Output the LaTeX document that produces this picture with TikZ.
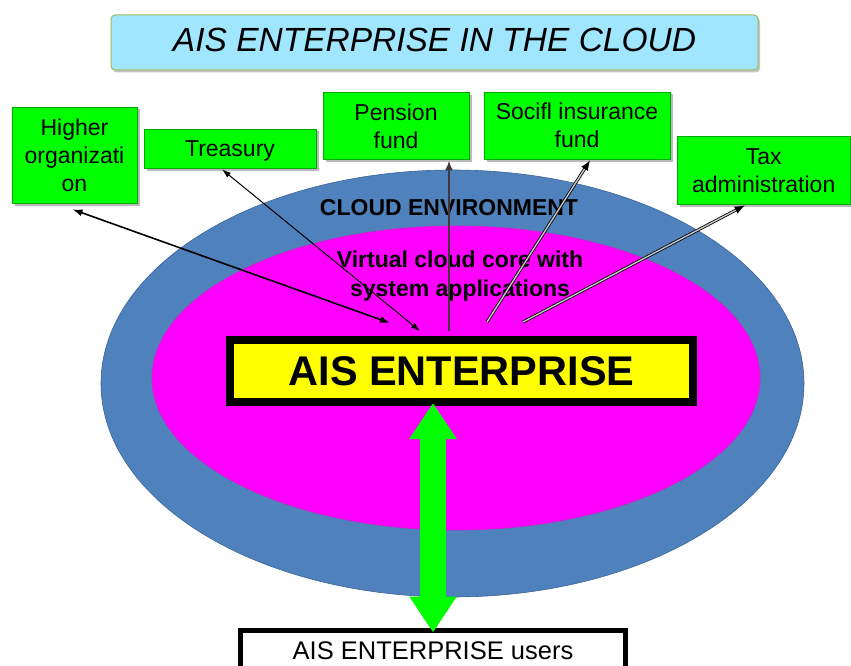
\documentclass[tikz,border=0pt]{standalone}
\usepackage{fontspec}
\setmainfont{Liberation Sans}
\usetikzlibrary{arrows.meta,shadows,calc}
\definecolor{cloudblue}{HTML}{4F81BD}
\definecolor{cloudedge}{HTML}{3C6597}
\definecolor{coremag}{HTML}{FF00FF}
\definecolor{coreedge}{HTML}{D020D0}
\definecolor{boxgreen}{HTML}{00FF00}
\definecolor{boxedge}{HTML}{00A800}
\definecolor{titlefill}{HTML}{A0E6FF}
\definecolor{titleedge}{HTML}{9BBB59}
\definecolor{aisyellow}{HTML}{FFFF00}
\newcommand\gstrut{\rule[-5.3pt]{0pt}{27.3pt}}
\begin{document}
\begin{tikzpicture}[x=1pt,y=-1pt,
  orgbox/.style={rectangle, draw=boxedge, line width=0.8pt, fill=boxgreen,
    inner sep=0pt, align=center, font=\fontsize{23}{28}\selectfont,
    drop shadow={shadow xshift=2.5pt,shadow yshift=-2.5pt,fill=black!45,opacity=0.6}},
  titlebox/.style={rectangle, rounded corners=4pt, draw=titleedge, line width=1pt,
    fill=titlefill, inner sep=0pt, text depth=6pt,
    font=\fontsize{33.5}{38}\selectfont\itshape,
    drop shadow={shadow xshift=2pt,shadow yshift=-2.5pt,fill=black!45,opacity=0.5}},
  aisbox/.style={rectangle, draw=black, line width=8pt, fill=aisyellow, inner sep=0pt,
    font=\fontsize{41.5}{46}\selectfont\bfseries},
  userbox/.style={rectangle, draw=black, line width=5pt, fill=white, inner sep=0pt,
    text depth=8pt, font=\fontsize{25.5}{30}\selectfont},
  cloudtext/.style={align=center, inner sep=0pt, font=\fontsize{23}{27}\selectfont\bfseries},
  thinlink/.style={draw=black, line width=1pt, {Latex[length=9pt,width=6pt]}-{Latex[length=9pt,width=6pt]}},
  thicklink/.style={draw=black, line width=1.6pt, {Latex[length=10pt,width=7pt]}-{Latex[length=10pt,width=7pt]}},
  uplink/.style={draw=black!85!magenta, line width=2.2pt, -{Latex[length=10pt,width=8pt]}},
  dbllink/.style={draw=black, line width=0.8pt, double=gray!45, double distance=1.4pt, -{Latex[length=10pt,width=8pt]}},
  bigarrow/.style={draw=boxgreen, line width=26pt,
    {Triangle[width=45pt,length=36pt]}-{Triangle[width=45pt,length=36pt]}}
]
\useasboundingbox (0,0) rectangle (851,666);

% cloud ellipses
\path[fill=cloudblue, draw=cloudedge, line width=0.6pt] (452.5,383.5) ellipse [x radius=351.5, y radius=213.5];
\path[fill=coremag, draw=coreedge, line width=0.8pt] (456,378) ellipse [x radius=304, y radius=152];

% texts
\node[cloudtext] (env) at (449,208) {CLOUD ENVIRONMENT};
\node[cloudtext] (core) at (460,273.5) {\gstrut Virtual cloud core with\\\gstrut system applications};

% title
\node[titlebox, minimum width=647pt, minimum height=55pt] (title) at (434.5,42.5) {AIS ENTERPRISE IN THE CLOUD};

% organisation boxes
\node[orgbox, minimum width=125pt, minimum height=96pt] (hi) at (74.5,155) {\gstrut Higher\\\gstrut organizati\\\gstrut on};
\node[orgbox, minimum width=172pt, minimum height=39pt] (tr) at (230,148.5) {\gstrut Treasury};
\node[orgbox, minimum width=146pt, minimum height=67pt] (pe) at (396,126) {\gstrut Pension\\\gstrut fund};
\node[orgbox, minimum width=186pt, minimum height=67pt] (so) at (577,125.5) {\gstrut Socifl insurance\\\gstrut fund};
\node[orgbox, minimum width=173.5pt, minimum height=68pt] (tx) at (763.75,170) {\gstrut Tax\\\gstrut administration};

% main box
\node[aisbox, minimum width=463pt, minimum height=62pt] (ais) at (461.5,371) {AIS ENTERPRISE};

% users box
\node[userbox, minimum width=385pt, minimum height=50pt, anchor=north] (users) at (433,627.5) {AIS ENTERPRISE users};

% link end points inside the core
\coordinate (hiE) at (390,323);
\coordinate (trE) at (420,331);
\coordinate (peE) at (449,331);
\coordinate (soE) at (487,322);
\coordinate (txE) at (523,322);

% links
\draw[thicklink] ($(hi.south)+(-2,6)$) -- (hiE);
\draw[thinlink] ($(tr.south)+(-8,1)$) -- (trE);
\draw[uplink] (peE) -- ($(pe.south)+(53,0.5)$);
\draw[dbllink] (soE) -- ($(so.south)+(13,1)$);
\draw[dbllink] (txE) -- ($(tx.south)+(-19,1)$);

% big double arrow
\draw[bigarrow, shorten <=-3pt, shorten >=-5pt] (ais.south -| users.north) -- (users.north);
\end{tikzpicture}
\end{document}
